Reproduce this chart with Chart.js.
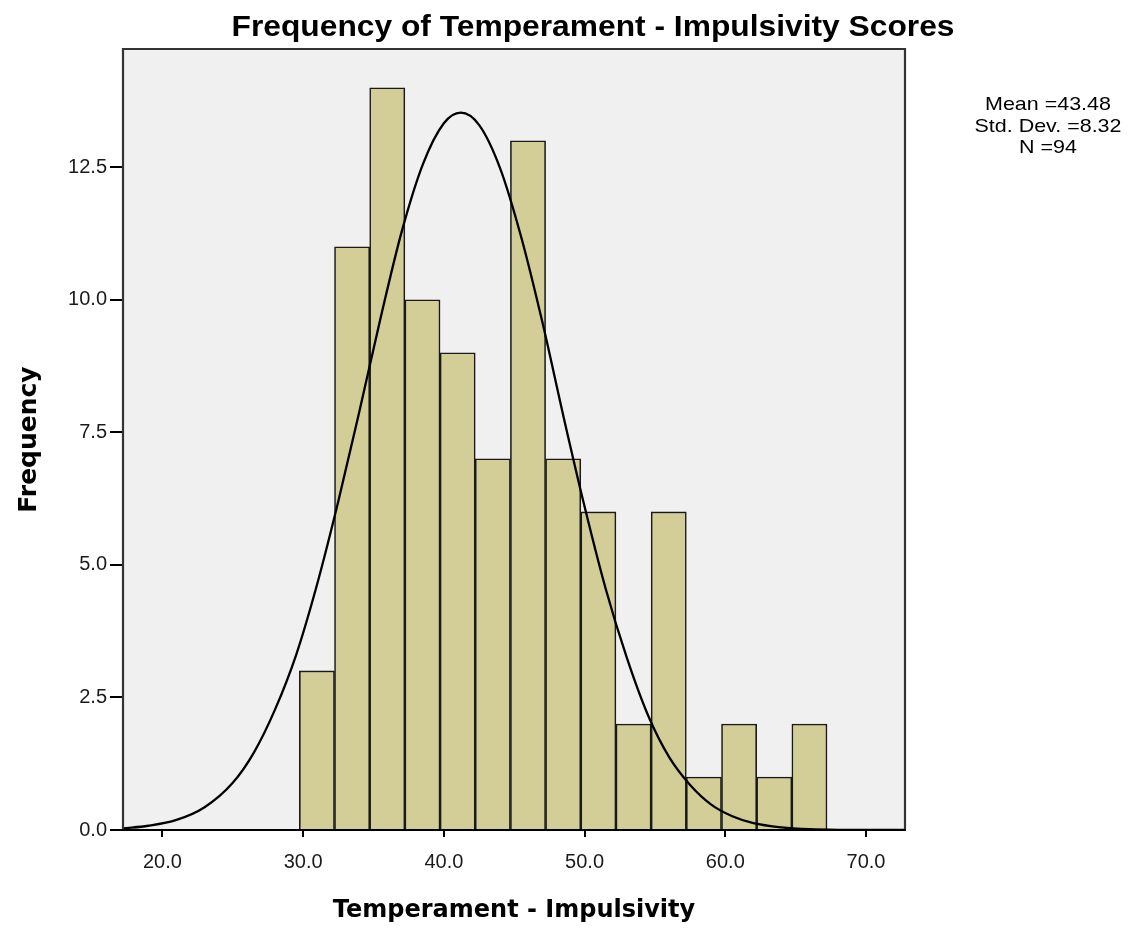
<!DOCTYPE html>
<html>
<head>
<meta charset="utf-8">
<script src="https://cdn.jsdelivr.net/npm/chart.js@4.4.1/dist/chart.umd.min.js"></script>
<style>
  html, body { margin: 0; padding: 0; background: #ffffff; }
  canvas { display: block; }
</style>
</head>
<body>
<canvas id="chart" width="1136" height="932"></canvas>
<script>
// ---- data ----
const chartTitle = 'Frequency of Temperament - Impulsivity Scores';
const xAxisTitle = 'Temperament - Impulsivity';
const yAxisTitle = 'Frequency';
const statsLines = ['Mean =43.48', 'Std. Dev. =8.32', 'N =94'];

// histogram bins (centres, width 2.5) and counts
const binCenters = [30.98, 33.48, 35.98, 38.48, 40.98, 43.48, 45.98, 48.48, 50.98, 53.48, 55.98, 58.48, 60.98, 63.48, 65.98];
const frequencies = [3, 11, 14, 10, 9, 7, 13, 7, 6, 2, 6, 1, 2, 1, 2];

// normal curve, points
const curveX = [17.2, 19.0, 21.0, 23.0, 25.0, 26.5, 28.0, 29.5, 31.0, 32.5, 34.0, 35.5, 37.0, 38.5, 40.0, 41.2, 42.5, 44.0, 45.5, 47.0, 48.5, 50.0, 51.5, 53.0, 54.5, 56.0, 57.5, 59.0, 60.5, 62.0, 64.0, 66.0, 68.0, 72.8];
const curveY = [0.03, 0.08, 0.19, 0.43, 0.89, 1.46, 2.27, 3.30, 4.64, 6.20, 7.90, 9.65, 11.28, 12.55, 13.33, 13.53, 13.30, 12.48, 11.18, 9.58, 7.80, 6.10, 4.55, 3.25, 2.17, 1.38, 0.85, 0.48, 0.26, 0.13, 0.05, 0.015, 0.004, 0.0];

// axis ticks
const xTickValues = [20, 30, 40, 50, 60, 70];
const xTickLabels = ['20.0', '30.0', '40.0', '50.0', '60.0', '70.0'];
const yTickValues = [0, 2.5, 5, 7.5, 10, 12.5];
const yTickLabels = ['0.0', '2.5', '5.0', '7.5', '10.0', '12.5'];
const xRange = [17.2, 72.77];
const yRange = [0, 14.73];

// ---- build chart ----
const histData = binCenters.map((c, i) => ({ x: c, y: frequencies[i] }));
const curveData = curveX.map((x, i) => ({ x: x, y: curveY[i] }));

const framePlugin = {
  id: 'frame',
  beforeDraw(chart) {
    const { ctx, chartArea: a } = chart;
    ctx.save();
    ctx.fillStyle = '#f0f0f0';
    ctx.fillRect(a.left, a.top, a.right - a.left, a.bottom - a.top);
    ctx.restore();
  },
  afterDatasetsDraw(chart) {
    const { ctx, chartArea: a } = chart;
    ctx.save();
    ctx.strokeStyle = '#333333';
    ctx.lineWidth = 2.2;
    ctx.beginPath();
    ctx.moveTo(a.left, a.bottom);
    ctx.lineTo(a.left, a.top);
    ctx.lineTo(a.right, a.top);
    ctx.lineTo(a.right, a.bottom);
    ctx.stroke();
    ctx.strokeStyle = '#000000';
    ctx.lineWidth = 2;
    ctx.beginPath();
    ctx.moveTo(a.left - 1, a.bottom);
    ctx.lineTo(a.right + 1, a.bottom);
    ctx.stroke();
    ctx.restore();
  },
  afterDraw(chart) {
    const { ctx } = chart;
    ctx.save();
    ctx.fillStyle = '#000000';
    ctx.textAlign = 'center';
    ctx.textBaseline = 'alphabetic';
    ctx.save();
    ctx.translate(593, 36);
    ctx.scale(1.095, 1);
    ctx.font = 'bold 29px "Liberation Sans", Arial, sans-serif';
    ctx.fillText(chartTitle, 0, 0);
    ctx.restore();
    const ys = [110, 132, 153];
    statsLines.forEach((t, i) => {
      ctx.save();
      ctx.translate(1048, ys[i]);
      ctx.scale(1.13, 1);
      ctx.font = '19px "Liberation Sans", Arial, sans-serif';
      ctx.fillText(t, 0, 0);
      ctx.restore();
    });
    ctx.restore();
  }
};

new Chart(document.getElementById('chart'), {
  type: 'bar',
  data: {
    datasets: [
      {
        type: 'line',
        data: curveData,
        borderColor: '#000000',
        borderWidth: 2.3,
        pointRadius: 0,
        fill: false,
        cubicInterpolationMode: 'monotone',
        order: 0
      },
      {
        type: 'bar',
        data: histData,
        backgroundColor: '#d3ce97',
        borderColor: '#1a1a1a',
        borderWidth: 1.6,
        barPercentage: 1.0,
        categoryPercentage: 1.0,
        order: 1
      }
    ]
  },
  options: {
    responsive: false,
    animation: false,
    devicePixelRatio: 1,
    layout: { padding: { top: 49, right: 231, bottom: 0, left: 0 } },
    plugins: {
      legend: { display: false },
      title: { display: false },
      tooltip: { enabled: false }
    },
    scales: {
      x: {
        type: 'linear',
        min: xRange[0],
        max: xRange[1],
        offset: false,
        afterBuildTicks(scale) { scale.ticks = xTickValues.map(v => ({ value: v })); },
        afterFit(scale) { scale.height = 102; },
        ticks: {
          autoSkip: false,
          maxRotation: 0,
          padding: 13,
          color: '#1a1a1a',
          font: { family: '"Liberation Sans", Arial, sans-serif', size: 20 },
          callback: (v) => xTickLabels[xTickValues.indexOf(v)]
        },
        grid: {
          display: true,
          offset: false,
          drawOnChartArea: false,
          drawTicks: true,
          tickLength: 7,
          color: '#000000',
          lineWidth: 2
        },
        border: { display: false },
        title: {
          display: true,
          text: xAxisTitle,
          color: '#000000',
          font: { family: '"DejaVu Sans", sans-serif', size: 24, weight: 'bold' },
          padding: { top: 0, bottom: 7 }
        }
      },
      y: {
        type: 'linear',
        min: yRange[0],
        max: yRange[1],
        afterBuildTicks(scale) { scale.ticks = yTickValues.map(v => ({ value: v })); },
        afterFit(scale) { scale.width = 123; },
        ticks: {
          autoSkip: false,
          padding: 3,
          color: '#1a1a1a',
          font: { family: '"Liberation Sans", Arial, sans-serif', size: 20 },
          callback: (v) => yTickLabels[yTickValues.indexOf(v)]
        },
        grid: {
          display: true,
          drawOnChartArea: false,
          drawTicks: true,
          tickLength: 13,
          color: '#000000',
          lineWidth: 2
        },
        border: { display: false },
        title: {
          display: true,
          text: yAxisTitle,
          color: '#000000',
          font: { family: '"DejaVu Sans", sans-serif', size: 25, weight: 'bold' },
          padding: { top: 14, bottom: 0 }
        }
      }
    }
  },
  plugins: [framePlugin]
});
</script>
</body>
</html>
